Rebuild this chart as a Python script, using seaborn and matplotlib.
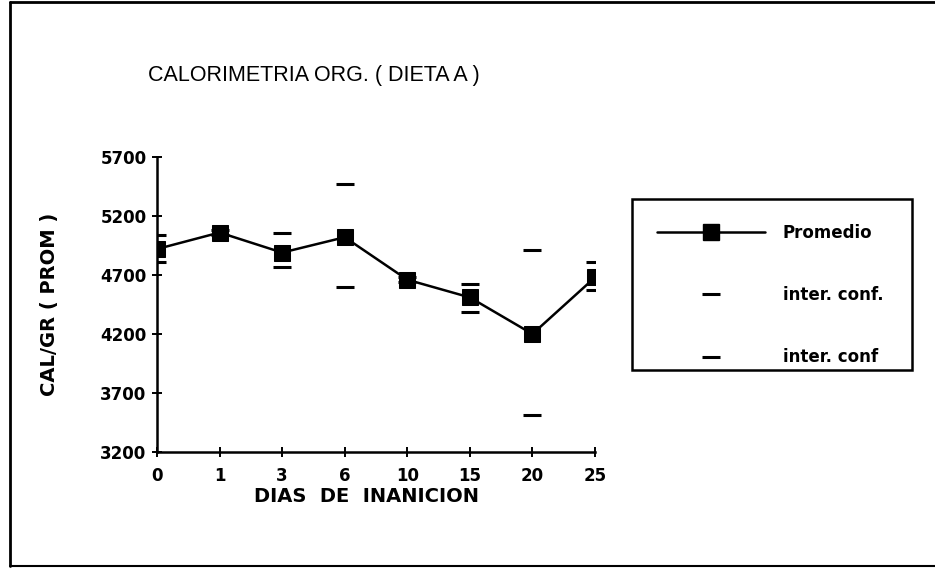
import pandas as pd
import seaborn as sns
import matplotlib.pyplot as plt
from matplotlib.lines import Line2D
from matplotlib.patches import Rectangle

dias = ["0", "1", "3", "6", "10", "15", "20", "25"]
promedio = [4920, 5060, 4890, 5020, 4660, 4510, 4200, 4680]
ic_sup = [5040, 5080, 5060, 5470, 4680, 4620, 4910, 4810]
ic_inf = [4810, 5040, 4770, 4600, 4640, 4390, 3510, 4570]
y_ticks = [3200, 3700, 4200, 4700, 5200, 5700]


def main() -> None:
    sns.set_theme(style="white")
    plt.rcParams["font.family"] = ["DejaVu Sans"]
    plt.rcParams["text.color"] = "black"

    df = pd.DataFrame({"dia": dias, "prom": promedio, "sup": ic_sup, "inf": ic_inf})
    df["pos"] = range(len(df))

    fig = plt.figure(figsize=(9.35, 5.69), dpi=100)
    ax = fig.add_axes([157 / 935, 1 - 452 / 569, (595 - 157) / 935, (452 - 157) / 569])

    sns.lineplot(data=df, x="pos", y="prom", ax=ax, color="black", lw=1.8,
                 marker="s", markersize=11, markeredgecolor="black")
    sns.scatterplot(data=df, x="pos", y="sup", ax=ax, color="black", marker="_",
                    s=150, linewidth=2.2)
    sns.scatterplot(data=df, x="pos", y="inf", ax=ax, color="black", marker="_",
                    s=150, linewidth=2.2)

    ax.set_xlim(0, len(dias) - 1)
    ax.set_ylim(3200, 5700)
    ax.set_xticks(df["pos"])
    ax.set_xticklabels(dias)
    ax.set_yticks(y_ticks)
    ax.tick_params(axis="both", direction="inout", length=7, width=1.4, color="black",
                   labelsize=12, labelcolor="black", bottom=True, left=True)
    ax.tick_params(axis="x", pad=7)
    ax.tick_params(axis="y", pad=4)
    for t in ax.get_xticklabels() + ax.get_yticklabels():
        t.set_fontweight("bold")
    sns.despine(ax=ax)
    for s in ["left", "bottom"]:
        ax.spines[s].set_linewidth(1.8)
        ax.spines[s].set_color("black")
    ax.set_xlabel("")
    ax.set_ylabel("")

    fig.text(148 / 935, 1 - 76 / 569, "CALORIMETRIA ORG. ( DIETA A )", fontsize=15.5,
             va="center", ha="left", family=["Liberation Sans"])
    fig.text(50 / 935, 1 - 304 / 569, "CAL/GR ( PROM )", fontsize=14, rotation=90,
             va="center", ha="center", fontweight="bold")
    fig.text(367 / 935, 1 - 497 / 569, "DIAS  DE  INANICION", fontsize=14,
             va="center", ha="center", fontweight="bold")

    handles = [
        Line2D([], [], color="black", lw=1.8, marker="s", markersize=11),
        Line2D([], [], color="black", ls="none", marker="_", markersize=13, markeredgewidth=2.2),
        Line2D([], [], color="black", ls="none", marker="_", markersize=13, markeredgewidth=2.2),
    ]
    fig.legend(handles, ["Promedio", "inter. conf.", "inter. conf"],
               loc="upper left", bbox_to_anchor=(632 / 935, 1 - 199 / 569),
               frameon=False, handlelength=6.5, handletextpad=1.05, labelspacing=2.65,
               borderpad=1.5, borderaxespad=0,
               prop={"weight": "bold", "size": 12})
    fig.add_artist(Rectangle((632 / 935, 1 - 370 / 569), (912 - 632) / 935, (370 - 199) / 569,
                             transform=fig.transFigure, fill=False, edgecolor="black", lw=1.8))

    # marco exterior de la figura
    fig.add_artist(Line2D([10 / 935, 10 / 935], [3 / 569, 1 - 2 / 569], color="black", lw=2))
    fig.add_artist(Line2D([10 / 935, 1], [1 - 2 / 569, 1 - 2 / 569], color="black", lw=2))
    fig.add_artist(Line2D([10 / 935, 1], [3 / 569, 3 / 569], color="black", lw=1.5))

    fig.savefig("out.png", dpi=100)
    plt.close(fig)


if __name__ == "__main__":
    main()
